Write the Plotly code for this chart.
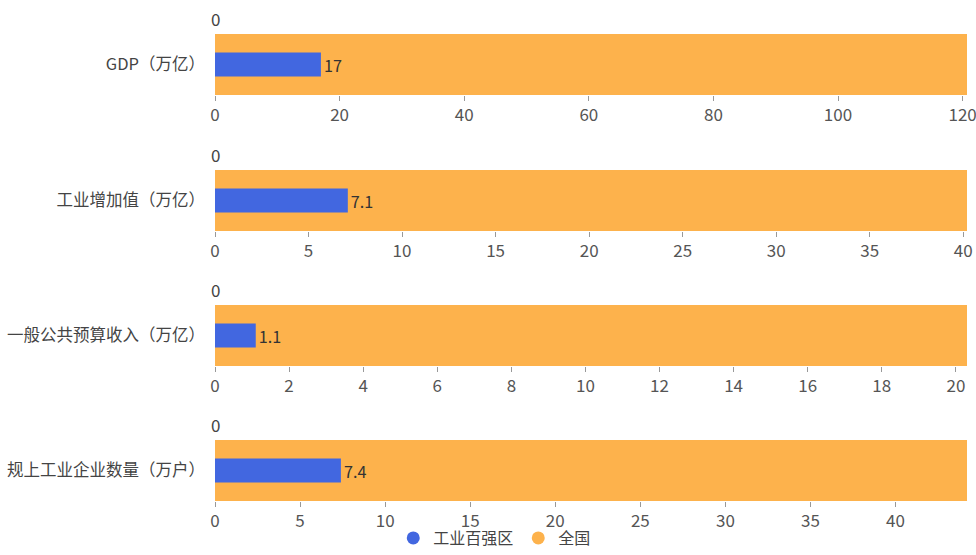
import plotly.graph_objects as go

categories = ["GDP（万亿）", "工业增加值（万亿）", "一般公共预算收入（万亿）", "规上工业企业数量（万户）"]
top100_values = [17, 7.1, 1.1, 7.4]
national_values = [120.7, 40.2, 20.3, 44.2]
x_tick_steps = [20, 5, 2, 5]
series_names = ["工业百强区", "全国"]

BLUE = "#4267E0"
ORANGE = "#FDB24C"
FONT = "Noto Sans CJK SC"

W, H = 976, 555
# pixel positions (top, bottom) of each plot band
bands = [(34, 95), (170, 231), (305, 366), (440, 501)]

fig = go.Figure()
layout = {}
annotations = []
for i, cat in enumerate(categories):
    n = i + 1
    xa = "x" if n == 1 else f"x{n}"
    ya = "y" if n == 1 else f"y{n}"
    fig.add_trace(go.Bar(
        x=[national_values[i]], y=[cat], orientation="h", width=1.0,
        marker=dict(color=ORANGE, line=dict(width=0)), name=series_names[1],
        showlegend=False, xaxis=xa, yaxis=ya, hoverinfo="skip",
    ))
    fig.add_trace(go.Bar(
        x=[top100_values[i]], y=[cat], orientation="h", width=0.39,
        marker=dict(color=BLUE, line=dict(width=0)), name=series_names[0],
        showlegend=False, xaxis=xa, yaxis=ya,
        text=[f"{top100_values[i]:g}"], textposition="outside", cliponaxis=False,
        textfont=dict(size=17, color="#333333", family=FONT),
        hoverinfo="skip",
    ))
    top, bot = bands[i]
    dom = [1 - bot / H, 1 - top / H]
    layout[f"xaxis{'' if n == 1 else n}"] = dict(
        domain=[0, 1], anchor=ya, range=[0, national_values[i]], automargin=False,
        dtick=x_tick_steps[i], tick0=0, showgrid=False, zeroline=False,
        showline=False, ticks="outside", ticklen=5, tickcolor="#999999",
        tickfont=dict(size=17, color="#555555", family=FONT),
        ticklabeloverflow="allow",
    )
    layout[f"yaxis{'' if n == 1 else n}"] = dict(
        domain=dom, anchor=xa, range=[-0.5, 0.5], showgrid=False, automargin=False,
        zeroline=False, showline=False, ticks="", ticklabelstandoff=9,
        tickfont=dict(size=16.5, color="#444444", family=FONT),
    )
    annotations.append(dict(
        x=0, y=1, xref=xa, yref=f"{ya} domain", text="0", showarrow=False,
        xanchor="center", yanchor="bottom", yshift=1,
        font=dict(size=17, color="#444444", family=FONT),
    ))

# legend entries (circle markers, as in the reference)
for name, color in zip(series_names, [BLUE, ORANGE]):
    fig.add_trace(go.Scatter(
        x=[None], y=[None], mode="markers", name=name,
        marker=dict(symbol="circle", size=13, color=color),
        xaxis="x", yaxis="y", hoverinfo="skip",
    ))

fig.update_layout(
    **layout,
    barmode="overlay",
    width=W, height=H,
    margin=dict(l=215, r=9, t=0, b=0),
    paper_bgcolor="white", plot_bgcolor="white",
    showlegend=True,
    legend=dict(orientation="h", x=0.372, xanchor="center", y=0, yanchor="bottom",
                bgcolor="rgba(0,0,0,0)",
                font=dict(size=16, color="#444444", family=FONT),
                traceorder="normal", itemwidth=30, tracegroupgap=0),
    annotations=annotations,
    font=dict(family=FONT),
)
# remove the browser's default 8px page margin so the figure fills the window exactly
fig.write_html(
    "out.html",
    config={"displayModeBar": False},
    post_script="document.body.style.margin='0';document.documentElement.style.overflow='hidden';",
)
